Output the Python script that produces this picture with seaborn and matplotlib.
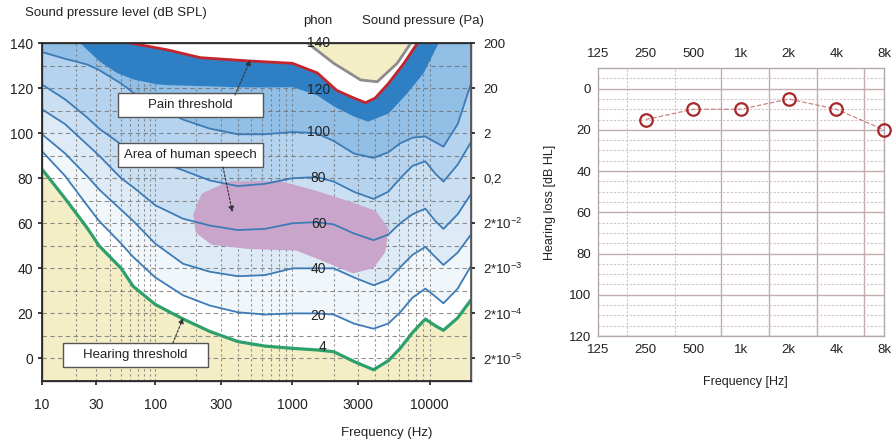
import numpy as np
import matplotlib
matplotlib.use("Agg")
import matplotlib.pyplot as plt
from matplotlib.patches import Rectangle
import seaborn as sns

# ----------------------------------------------------------- left chart data
# equal-loudness contours (Hz -> dB SPL)
freq = [10, 16, 25, 32, 50, 64, 100, 160, 250, 400, 630, 1000, 1500, 2000,
        2800, 3900, 5000, 6100, 7500, 9300, 11000, 12600, 16000, 20000]
threshold = [84, 71, 58, 50, 40, 32, 24, 17.5, 12, 7.5, 5.5, 4.5, 3.8, 3,
             -1.3, -5, -1, 4.5, 11.5, 17.5, 14.5, 12.5, 18, 26]
phon20 = [92, 81, 68, 61, 51, 45, 36, 28, 23.5, 20.5, 19.5, 20, 20, 19.5,
          15.5, 13.2, 15.5, 20.5, 27, 31, 27.5, 24.5, 31, 41]
phon40 = [99.5, 91, 81, 75, 66, 61, 51, 42, 38.5, 36.5, 37, 40, 40, 40,
          36, 32.5, 35, 40.5, 46, 49.5, 45, 41.5, 47, 55]
phon60 = [110.6, 104, 95, 90, 80, 76, 68, 62, 59, 57, 57.5, 60, 60.5, 59.5,
          55.5, 52.5, 55, 60, 64, 66.5, 61, 57.5, 64, 73]
phon80 = [121.6, 115, 107, 102, 95, 92, 88, 83.5, 79, 76.5, 77.5, 80, 80.5, 78.5,
          74, 70.8, 74, 80, 85.5, 87.5, 82, 78.5, 86, 96]
phon100 = [136, 133, 130.5, 128, 122, 118, 112, 106, 102, 99.5, 99.5, 100.5, 100, 96.5,
           91, 89, 91.5, 95.5, 98, 98.5, 96, 94, 104, 122]

phon120_f = [10, 21.7, 32, 46, 64, 100, 122, 250, 371, 630, 1000, 1500, 2000,
             2800, 3530, 5000, 6850, 9000, 11500, 14000]
phon120 = [150, 140, 132, 126.8, 124, 122, 121.5, 121, 120.6, 120.5, 120.6, 117, 112,
           107.5, 105.3, 109, 118, 127, 140, 150]

pain_f = [30, 60, 122, 213, 494, 1000, 1520, 2100, 2700, 3400, 4000, 5000, 6500, 8150, 10000]
pain = [150, 140, 137, 133.5, 132, 131, 126.7, 119, 116, 113.5, 115.5, 122, 131, 140, 150]

phon140_f = [1000, 1290, 2000, 3140, 4150, 5800, 7300, 9000]
phon140 = [148, 140, 131, 123.6, 122.8, 131, 140, 148]

speech_f = [206, 232, 353, 818, 1425, 2440, 3846, 4620, 4390, 3715, 2784,
            1597, 1087, 469, 265, 213]
speech_db = [63.7, 71.6, 76.5, 76.5, 72.5, 68, 63.7, 57, 48, 42, 40,
             46, 50, 50.8, 52.6, 57]

phon_labels = ["140", "120", "100", "80", "60", "40", "20", "4"]
phon_label_y = [140, 119, 100.5, 80, 59.7, 39.7, 19, 5]

x_ticks = [10, 30, 100, 300, 1000, 3000, 10000]
x_minor = [20, 40, 50, 60, 70, 80, 90, 200, 400, 500, 600, 700, 800, 900,
           2000, 4000, 5000, 6000, 7000, 8000, 9000, 20000]
spl_ticks = [140, 120, 100, 80, 60, 40, 20, 0]
pa_labels = ["200", "20", "2", "0,2", "2*10$^{-2}$", "2*10$^{-3}$",
             "2*10$^{-4}$", "2*10$^{-5}$"]

# ------------------------------------------------------ audiogram data
ag_freq = [250, 500, 1000, 2000, 4000, 8000]
ag_loss = [15, 10, 10, 5, 10, 20]
ag_ticks = [125, 250, 500, 1000, 2000, 4000, 8000]
ag_labels = ["125", "250", "500", "1k", "2k", "4k", "8k"]

sns.set_theme(style="ticks")
plt.rcParams["font.family"] = ["Liberation Sans", "DejaVu Sans"]
plt.rcParams["mathtext.default"] = "regular"

YELLOW = "#f3eec6"
BLUE_LINE = "#3d7bb6"


# the drawing squeezes the 10-100 Hz decade a bit compared with the others
def fwd(f):
    t = np.log10(np.clip(np.asarray(f, dtype=float), 1e-6, None))
    return np.where(t < 2, 2 + (t - 2) * 113 / 137, t)


def inv(t):
    t = np.asarray(t, dtype=float)
    return np.where(t < 2, 10 ** (2 + (t - 2) * 137 / 113), 10 ** t)


fig = plt.figure(figsize=(8.93, 4.42), dpi=100)

# =============================================================== left chart
ax = fig.add_axes([0.047, 0.138, 0.4804, 0.7647])
ax.set_xscale("function", functions=(fwd, inv))
ax.set_xlim(10, 20000)
ax.set_ylim(-10, 140)
ax.set_facecolor(YELLOW)

bands = [(threshold, "#ffffff"), (phon20, "#f1f6fb"), (phon40, "#deebf6"),
         (phon60, "#cadff2"), (phon80, "#b5d3ee"), (phon100, "#92bfe5")]
for vals, col in bands:
    ax.fill_between(freq, vals, 160, color=col, lw=0, zorder=0.5)
ax.fill_between(phon120_f, phon120, 160, color="#2f7fc4", lw=0, zorder=0.6)
ax.fill_between(pain_f, pain, 160, color="#ffffff", lw=0, zorder=0.7)
ax.fill_between(phon140_f, phon140, 160, color=YELLOW, lw=0, zorder=0.8)

ax.fill(speech_f, speech_db, color="#c9a5cb", ec="#c9a5cb", lw=7,
        joinstyle="round", zorder=1.2)

ax.set_xticks(x_ticks)
ax.set_xticklabels([str(v) for v in x_ticks])
ax.set_xticks(x_minor, minor=True)
ax.set_yticks(spl_ticks)
ax.set_yticks(np.arange(-10, 141, 10), minor=True)
ax.grid(which="both", axis="x", color="#6b6b6b", lw=0.8, ls=(0, (2, 2.5)), alpha=0.75)
ax.grid(which="both", axis="y", color="#6b6b6b", lw=0.8, ls=(0, (4, 3)), alpha=0.75)

for vals in [phon20, phon40, phon60, phon80, phon100]:
    sns.lineplot(x=freq, y=vals, ax=ax, color=BLUE_LINE, lw=1.3, zorder=3)
sns.lineplot(x=freq, y=threshold, ax=ax, color="#2ea06c", lw=2.3, zorder=3)
sns.lineplot(x=pain_f, y=pain, ax=ax, color="#c4252c", lw=2.0, zorder=3)
sns.lineplot(x=phon140_f, y=phon140, ax=ax, color="#8c8c8c", lw=2.0, zorder=3)

for s, y in zip(phon_labels, phon_label_y):
    ax.text(1550 if s != "4" else 1650, y, s, ha="center", va="center",
            fontsize=10, color="#222222", zorder=4)

# callout boxes (axes fraction) with dashed arrows
boxes = [("Pain threshold", 0.177, 0.781, (0.45, 0.846), (494, 132.5)),
         ("Area of human speech", 0.177, 0.633, (0.422, 0.633), (365, 65)),
         ("Hearing threshold", 0.049, 0.041, (0.305, 0.112), (160, 18))]
for label, x0, y0, start, target in boxes:
    ax.add_patch(Rectangle((x0, y0), 0.338, 0.071, transform=ax.transAxes,
                           fc="white", ec="#555555", lw=1, zorder=5))
    ax.text(x0 + 0.169, y0 + 0.0355, label, transform=ax.transAxes,
            ha="center", va="center", fontsize=9.5, color="#222222", zorder=6)
    ax.annotate("", xy=target, xycoords="data", xytext=start,
                textcoords="axes fraction", zorder=6,
                arrowprops=dict(arrowstyle="-|>", color="#333333", lw=0.8,
                                ls=(0, (2, 1.5)), mutation_scale=8,
                                shrinkA=0, shrinkB=0))

for sp in ax.spines.values():
    sp.set_color("#555555")
    sp.set_linewidth(1)
ax.tick_params(which="major", labelsize=10, colors="#222222", length=3)
ax.tick_params(axis="x", which="major", pad=9)
ax.tick_params(which="minor", length=0)
ax.set_xlabel("Frequency (Hz)", fontsize=9.5, color="#222222")
ax.xaxis.set_label_coords(0.804, -0.136)

ax2 = ax.twinx()
ax2.set_ylim(ax.get_ylim())
ax2.set_yticks(spl_ticks)
ax2.set_yticklabels(pa_labels)
ax2.tick_params(labelsize=9.5, colors="#222222", length=3, pad=6)
ax2.spines["right"].set_color("#555555")

fig.text(25 / 893, 1 - 13 / 442, "Sound pressure level (dB SPL)", fontsize=9.5,
         ha="left", va="center", color="#222222")
fig.text(318 / 893, 1 - 21 / 442, "phon", fontsize=9.5, ha="center",
         va="center", color="#222222")
fig.text(362 / 893, 1 - 21 / 442, "Sound pressure (Pa)", fontsize=9.5,
         ha="left", va="center", color="#222222")

# ================================================================ audiogram
axa = fig.add_axes([0.6697, 0.2398, 0.3203, 0.6063])
axa.set_xscale("log", base=2)
axa.set_xlim(125, 8000)
axa.set_ylim(120, -10)
axa.set_facecolor("white")

axa.set_yticks(range(0, 121, 20))
axa.set_yticks(np.arange(-5, 120, 5), minor=True)
axa.grid(which="minor", axis="y", color="#d3c4c4", lw=0.8, ls=(0, (2, 1.5)))
axa.grid(which="major", axis="y", color="#c2acac", lw=1.0)
for xv in [190, 380]:
    axa.axvline(xv, color="#d3c4c4", lw=0.8, ls=(0, (2, 1.5)), zorder=0.5)
for xv in [750, 1500, 3000, 6000]:
    axa.axvline(xv, color="#c2acac", lw=1.0, zorder=0.5)

sns.lineplot(x=ag_freq, y=ag_loss, ax=axa, color="#c98585", lw=0.9,
             linestyle="--", marker="o", markersize=9, markerfacecolor="none",
             markeredgecolor="#a7282c", markeredgewidth=1.6, clip_on=False, zorder=4)

axa.set_xticks(ag_ticks)
axa.set_xticklabels(ag_labels)
axa.set_xticks([], minor=True)
axa.tick_params(axis="x", which="both", top=True, labeltop=True, length=0,
                pad=6, labelsize=9.5, colors="#222222")
axa.tick_params(axis="y", which="both", length=0, pad=5, labelsize=9.5,
                colors="#222222")
for sp in axa.spines.values():
    sp.set_color("#b5a8a8")
    sp.set_linewidth(1)

axa.set_xlabel("Frequency [Hz]", fontsize=9, color="#222222")
axa.xaxis.set_label_coords(0.514, -0.149)
axa.set_ylabel("Hearing loss [dB HL]", fontsize=9, color="#222222")
axa.yaxis.set_label_coords(-0.147, 0.5)

fig.savefig("out.png", dpi=100)
